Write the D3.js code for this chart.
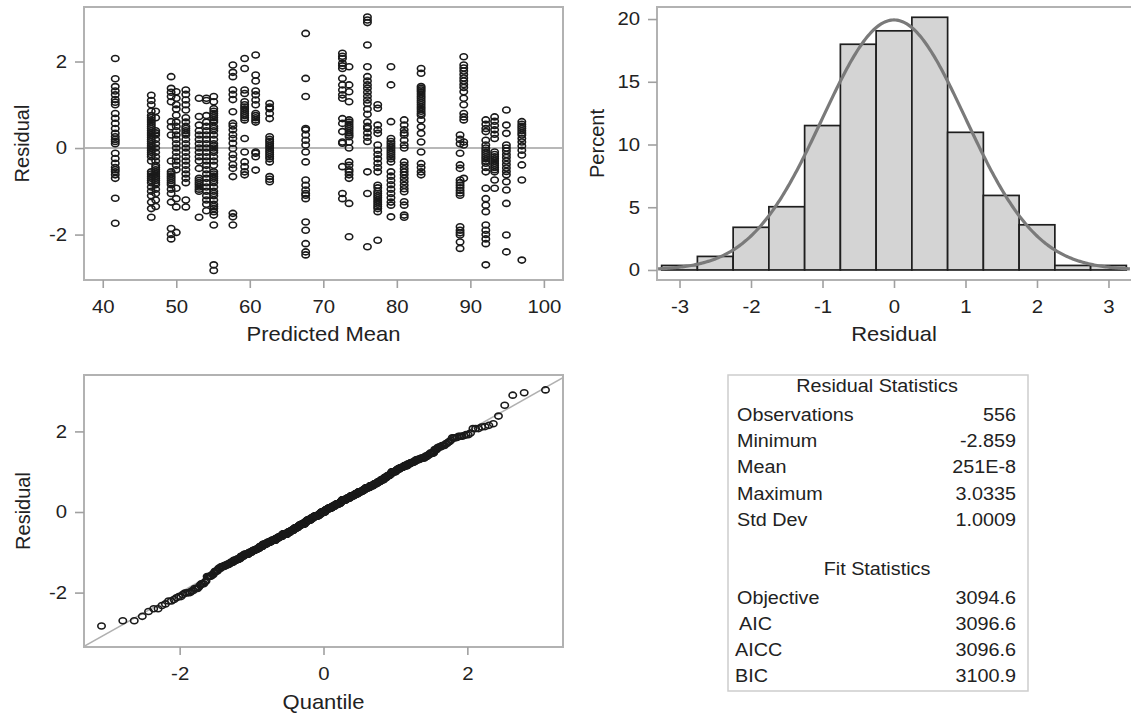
<!DOCTYPE html>
<html><head><meta charset="utf-8">
<script src="https://cdn.jsdelivr.net/npm/d3@7"></script>
<style>
body{margin:0;background:#fff;}
svg{display:block;font-family:"Liberation Sans",Arial,sans-serif;}
</style></head><body>
<svg id="c" width="1131" height="713"></svg>
<script>
// ---------- DATA ----------
const predictedMeans = [41.7,46.6,47.2,49.3,50.0,51.3,53.1,54.1,55.1,57.7,59.3,60.8,62.7,67.6,72.6,73.5,76.0,77.4,79.2,81.0,83.3,88.6,89.1,92.1,93.3,94.9,97.0];
const residualsByGroup = [
 [2.07,1.6,1.42,1.32,1.23,1.12,1.06,1.0,0.8,0.69,0.57,0.45,0.34,0.26,0.2,0.15,0.1,-0.12,-0.24,-0.35,-0.45,-0.5,-0.55,-0.62,-0.7,-1.16,-1.74],
 [1.22,1.1,1.0,0.85,0.75,0.7,0.65,0.6,0.55,0.5,0.45,0.4,0.35,0.3,0.25,0.2,0.15,0.1,0.05,0,-0.05,-0.1,-0.15,-0.2,-0.3,-0.55,-0.6,-0.65,-0.7,-0.75,-0.8,-0.9,-1.0,-1.1,-1.25,-1.4,-1.6],
 [0.85,0.7,0.4,0.35,0.3,0.2,0.1,0.0,-0.1,-0.2,-0.3,-0.4,-0.45,-0.5,-0.55,-0.6,-0.65,-0.7,-0.75,-0.8,-0.85,-0.95,-1.05,-1.2,-1.35],
 [1.65,1.38,1.29,1.19,1.07,0.61,0.49,0.3,-0.3,-0.55,-0.6,-0.65,-0.7,-0.75,-0.8,-0.85,-0.95,-1.05,-1.25,-1.86,-2.0,-2.1],
 [1.3,1.15,1.0,0.9,0.76,0.6,0.5,0.4,0.3,0.2,0.1,0.0,-0.1,-0.2,-0.3,-0.4,-0.5,-0.93,-1.17,-1.36,-1.95],
 [1.34,1.24,1.11,1.0,0.88,0.7,0.6,0.5,0.45,0.4,0.35,0.3,0.2,0.1,0.0,-0.1,-0.2,-0.3,-0.4,-0.5,-0.6,-0.7,-0.8,-1.2,-1.36],
 [1.15,0.73,0.53,0.4,0.3,0.2,0.1,0.0,-0.1,-0.2,-0.3,-0.47,-0.7,-0.75,-0.8,-0.85,-0.9,-0.95,-1.0,-1.6],
 [1.15,1.1,0.75,0.6,0.5,0.4,0.3,0.2,0.1,0.0,-0.1,-0.2,-0.3,-0.4,-0.5,-0.6,-0.7,-0.8,-0.9,-1.0,-1.1,-1.2,-1.3,-1.45],
 [1.19,1.07,0.91,0.85,0.8,0.75,0.7,0.65,0.6,0.5,0.45,0.4,0.3,0.2,0.1,0.05,0.0,-0.05,-0.1,-0.2,-0.3,-0.4,-0.55,-0.6,-0.65,-0.7,-0.75,-0.8,-0.9,-1.0,-1.05,-1.1,-1.2,-1.3,-1.35,-1.4,-1.47,-1.55,-1.78,-2.7,-2.83],
 [1.92,1.75,1.65,1.34,1.24,1.12,0.84,0.57,0.51,0.42,0.31,0.22,0.11,-0.01,-0.15,-0.24,-0.38,-0.47,-0.66,-1.51,-1.59,-1.78],
 [2.07,1.84,1.34,1.26,1.07,1.0,0.95,0.9,0.85,0.8,0.75,0.7,0.65,0.22,-0.09,-0.32,-0.43,-0.55,-0.62],
 [2.15,1.69,1.55,1.32,1.23,1.11,1.0,0.8,0.75,0.7,0.65,0.6,-0.09,-0.12,-0.2,-0.51],
 [1.03,0.95,0.91,0.8,0.68,0.26,0.2,0.15,0.1,0.05,0.0,-0.05,-0.1,-0.15,-0.2,-0.25,-0.32,-0.66,-0.72,-0.78],
 [2.65,1.61,1.19,0.45,0.42,0.3,0.18,0.07,-0.09,-0.32,-0.74,-0.86,-0.97,-1.05,-1.09,-1.17,-1.71,-1.9,-2.21,-2.4,-2.47],
 [2.19,2.12,2.07,1.96,1.9,1.84,1.61,1.46,1.34,1.23,1.15,0.68,0.57,0.38,0.14,0.11,-0.43,-1.05,-1.17],
 [1.88,1.46,1.3,1.07,0.65,0.6,0.55,0.5,0.45,0.4,0.35,0.3,0.26,0.14,0.0,-0.32,-0.4,-0.5,-0.55,-0.62,-0.7,-1.28,-2.05],
 [3.03,2.96,2.9,2.38,1.88,1.65,1.55,1.46,1.38,1.29,1.2,1.11,1.03,0.9,0.78,0.6,0.5,0.45,0.35,0.25,0.15,-0.55,-1.05,-2.28],
 [1.0,0.92,0.53,0.42,0.34,0.07,-0.05,-0.15,-0.25,-0.35,-0.45,-0.55,-0.86,-0.92,-1.0,-1.05,-1.1,-1.15,-1.2,-1.25,-1.3,-1.35,-1.4,-1.47,-2.13],
 [1.88,1.46,0.61,0.22,0.15,0.1,0.05,0.0,-0.05,-0.1,-0.15,-0.2,-0.25,-0.32,-0.55,-0.65,-0.75,-0.85,-0.95,-1.05,-1.15,-1.25,-1.32,-1.59],
 [0.65,0.53,0.42,0.35,0.3,0.18,0.07,0.0,-0.32,-0.4,-0.48,-0.55,-0.62,-0.7,-0.78,-0.86,-0.94,-1.01,-1.24,-1.32,-1.55,-1.6],
 [1.84,1.73,1.42,1.38,1.34,1.3,1.25,1.2,1.15,1.1,1.05,1.0,0.95,0.9,0.85,0.8,0.76,0.65,0.49,0.34,0.14,-0.09,-0.36,-0.45,-0.55,-0.62],
 [0.3,0.2,0.1,-0.12,-0.39,-0.47,-0.74,-0.8,-0.86,-0.92,-0.98,-1.04,-1.09,-1.82,-1.9,-1.96,-2.01,-2.17,-2.32],
 [2.11,1.92,1.85,1.78,1.7,1.62,1.55,1.47,1.4,1.3,1.15,1.0,0.8,0.72,0.65,0.14,0.07,-0.7],
 [0.65,0.55,0.45,0.38,0.18,0.07,0.0,-0.05,-0.1,-0.15,-0.2,-0.25,-0.3,-0.35,-0.45,-0.55,-0.93,-1.17,-1.32,-1.47,-1.78,-1.9,-2.0,-2.1,-2.21,-2.7],
 [0.72,0.62,0.52,0.42,0.32,0.22,-0.09,-0.15,-0.2,-0.25,-0.3,-0.35,-0.4,-0.45,-0.5,-0.55,-0.74,-0.93],
 [0.88,0.53,0.34,0.07,0.0,-0.07,-0.15,-0.22,-0.3,-0.38,-0.46,-0.54,-0.62,-0.78,-0.97,-1.28,-2.01,-2.4],
 [0.61,0.55,0.5,0.45,0.4,0.35,0.3,0.22,0.14,0.05,-0.05,-0.16,-0.39,-0.74,-2.59]
];
const histMidpoints = [-3,-2.5,-2,-1.5,-1,-0.5,0,0.5,1,1.5,2,2.5,3];
const histPercents  = [0.36,1.08,3.4,5.04,11.51,17.99,19.06,20.14,10.97,5.94,3.6,0.36,0.36];
const histBinWidth = 0.5;
const residualStatLabels = ["Observations","Minimum","Mean","Maximum","Std Dev"];
const residualStatValues = ["556","-2.859","251E-8","3.0335","1.0009"];
const fitStatLabels = ["Objective","AIC","AICC","BIC"];
const fitStatValues = ["3094.6","3096.6","3096.6","3100.9"];
const residualMean = 251e-8, residualStd = 1.0009;
const scatterXTicks = [40,50,60,70,80,90,100];
const residualTicks = [-2,0,2];
const percentTicks = [0,5,10,15,20];
const histXTicks = [-3,-2,-1,0,1,2,3];
const quantileTicks = [-2,0,2];

// ---------- STYLE ----------
const TXT = "#222", FRAME = "#b2b2b2", TICKC = "#a0a0a0";
const FS_TICK = 18.5, FS_TITLE = 20, SX = 1.1;
const svg = d3.select("#c");

function frame(x0,x1,y0,y1){
  svg.append("rect").attr("x",x0).attr("y",y0).attr("width",x1-x0).attr("height",y1-y0)
    .attr("fill","none").attr("stroke",FRAME).attr("stroke-width",2);
}
function styleAxis(g,left){
  g.select(".domain").remove();
  g.selectAll(".tick line").attr("stroke",TICKC).attr("stroke-width",1.6);
  g.selectAll(".tick text").attr("fill",TXT).style("font-size",FS_TICK+"px")
    .attr("transform",`scale(${SX},1)`);
  if(left) g.selectAll(".tick text").attr("x",-17/SX);
}
function xAxis(scale,ticks,y,fmt){
  const g = svg.append("g").attr("transform",`translate(0,${y})`)
    .call(d3.axisBottom(scale).tickValues(ticks).tickSize(8).tickPadding(12).tickFormat(fmt||(d=>d)));
  styleAxis(g,false);
}
function yAxis(scale,ticks,x,fmt){
  const g = svg.append("g").attr("transform",`translate(${x},0)`)
    .call(d3.axisLeft(scale).tickValues(ticks).tickSize(9).tickPadding(8).tickFormat(fmt||(d=>d)));
  styleAxis(g,true);
}
function title(text,x,y,rot){
  svg.append("text").attr("transform",`translate(${x},${y})${rot?" rotate(-90)":` scale(${SX},1)`}`)
    .attr("text-anchor","middle").attr("dominant-baseline","central")
    .attr("fill",TXT).style("font-size",FS_TITLE+"px").text(text);
}
const fmtNeg = d => (d<0?"-"+Math.abs(d):String(d));
function markers(data,xf,yf){
  svg.append("g").selectAll("ellipse").data(data).join("ellipse")
    .attr("cx",xf).attr("cy",yf).attr("rx",3.7).attr("ry",3.0)
    .attr("fill","none").attr("stroke","#1a1a1a").attr("stroke-width",1.6);
}

// ---------- PANEL 1: residual vs predicted ----------
const p1 = {x0:84,x1:563,y0:7,y1:280};
const x1s = d3.scaleLinear().domain([37.45,102.6]).range([p1.x0,p1.x1]);
const y1s = d3.scaleLinear().domain([-3.05,3.26]).range([p1.y1,p1.y0]);
const scatterPts = [];
predictedMeans.forEach((m,i)=>residualsByGroup[i].forEach(r=>scatterPts.push({m,r})));
svg.append("line").attr("x1",p1.x0).attr("x2",p1.x1).attr("y1",y1s(0)).attr("y2",y1s(0))
  .attr("stroke","#a0a0a0").attr("stroke-width",1.6);
markers(scatterPts,d=>x1s(d.m),d=>y1s(d.r));
frame(p1.x0,p1.x1,p1.y0,p1.y1);
xAxis(x1s,scatterXTicks,p1.y1);
yAxis(y1s,residualTicks,p1.x0,fmtNeg);
title("Predicted Mean",(p1.x0+p1.x1)/2,334);
title("Residual",22,(p1.y0+p1.y1)/2,true);

// ---------- PANEL 2: histogram ----------
const p2 = {x0:657,x1:1131,y0:7,y1:280};
const x2s = d3.scaleLinear().domain([-3.315,3.315]).range([p2.x0,p2.x1]);
const y2s = d3.scaleLinear().domain([-0.8,20.96]).range([p2.y1,p2.y0]);
svg.append("g").selectAll("rect").data(histMidpoints.map((m,i)=>({m,p:histPercents[i]}))).join("rect")
  .attr("x",d=>x2s(d.m-histBinWidth/2)).attr("width",d=>x2s(d.m+histBinWidth/2)-x2s(d.m-histBinWidth/2))
  .attr("y",d=>y2s(d.p)).attr("height",d=>y2s(0)-y2s(d.p))
  .attr("fill","#d4d4d4").attr("stroke","#1e1e1e").attr("stroke-width",1.7);
const curveX = d3.range(-3.3,3.3001,0.02);
const normPct = x => 100*histBinWidth*Math.exp(-0.5*((x-residualMean)/residualStd)**2)/(residualStd*Math.sqrt(2*Math.PI));
svg.append("path").datum(curveX).attr("fill","none").attr("stroke","#7a7a7a").attr("stroke-width",3.2)
  .attr("d",d3.line().x(d=>x2s(d)).y(d=>y2s(normPct(d))));
frame(p2.x0,p2.x1+2,p2.y0,p2.y1);
xAxis(x2s,histXTicks,p2.y1,fmtNeg);
yAxis(y2s,percentTicks,p2.x0);
title("Residual",(p2.x0+p2.x1)/2,334);
title("Percent",597,(p2.y0+p2.y1)/2,true);

// ---------- PANEL 3: Q-Q plot ----------
function invNorm(p){
  const a=[-3.969683028665376e+01,2.209460984245205e+02,-2.759285104469687e+02,1.383577518672690e+02,-3.066479806614716e+01,2.506628277459239e+00];
  const b=[-5.447609879822406e+01,1.615858368580409e+02,-1.556989798598866e+02,6.680131188771972e+01,-1.328068155288572e+01];
  const c=[-7.784894002430293e-03,-3.223964580411365e-01,-2.400758277161838e+00,-2.549732539343734e+00,4.374664141464968e+00,2.938163982698783e+00];
  const d=[7.784695709041462e-03,3.224671290700398e-01,2.445134137142996e+00,3.754408661907416e+00];
  const pl=0.02425;
  if(p<pl){const q=Math.sqrt(-2*Math.log(p));return (((((c[0]*q+c[1])*q+c[2])*q+c[3])*q+c[4])*q+c[5])/((((d[0]*q+d[1])*q+d[2])*q+d[3])*q+1);}
  if(p>1-pl){const q=Math.sqrt(-2*Math.log(1-p));return -(((((c[0]*q+c[1])*q+c[2])*q+c[3])*q+c[4])*q+c[5])/((((d[0]*q+d[1])*q+d[2])*q+d[3])*q+1);}
  const q=p-0.5,r=q*q;
  return (((((a[0]*r+a[1])*r+a[2])*r+a[3])*r+a[4])*r+a[5])*q/(((((b[0]*r+b[1])*r+b[2])*r+b[3])*r+b[4])*r+1);
}
const sortedRes = scatterPts.map(d=>d.r).sort((a,b)=>a-b);
const nRes = sortedRes.length;
const qqPts = sortedRes.map((r,i)=>({q:invNorm((i+1-0.375)/(nRes+0.25)),r}));
const p3 = {x0:84,x1:563,y0:375,y1:647};
const x3s = d3.scaleLinear().domain([-3.33,3.33]).range([p3.x0,p3.x1]);
const y3s = d3.scaleLinear().domain([-3.35,3.40]).range([p3.y1,p3.y0]);
svg.append("defs").append("clipPath").attr("id","qqclip").append("rect")
  .attr("x",p3.x0).attr("y",p3.y0).attr("width",p3.x1-p3.x0).attr("height",p3.y1-p3.y0);
svg.append("line").attr("clip-path","url(#qqclip)")
  .attr("x1",x3s(-3.4)).attr("y1",y3s(residualMean-3.4*residualStd))
  .attr("x2",x3s(3.4)).attr("y2",y3s(residualMean+3.4*residualStd))
  .attr("stroke","#b0b0b0").attr("stroke-width",1.6);
markers(qqPts,d=>x3s(d.q),d=>y3s(d.r));
frame(p3.x0,p3.x1,p3.y0,p3.y1);
xAxis(x3s,quantileTicks,p3.y1,fmtNeg);
yAxis(y3s,residualTicks,p3.x0,fmtNeg);
title("Quantile",(p3.x0+p3.x1)/2,702);
title("Residual",23,(p3.y0+p3.y1)/2,true);

// ---------- PANEL 4: statistics table ----------
const tb = {x0:728,x1:1028,y0:375,y1:691};
svg.append("rect").attr("x",tb.x0).attr("y",tb.y0).attr("width",tb.x1-tb.x0).attr("height",tb.y1-tb.y0)
  .attr("fill","none").attr("stroke","#cdcdcd").attr("stroke-width",1.5);
function ttext(t,x,y,anchor){
  svg.append("text").attr("transform",`translate(${x},${y}) scale(1.07,1)`)
    .attr("text-anchor",anchor).attr("dominant-baseline","central")
    .attr("fill","#222").style("font-size","18.5px").text(t);
}
const tcx = 877;
ttext("Residual Statistics",tcx,386,"middle");
const rsRows = [415,441,467,494,520];
residualStatLabels.forEach((l,i)=>{ttext(l,737,rsRows[i],"start");ttext(residualStatValues[i],1016,rsRows[i],"end");});
ttext("Fit Statistics",tcx,569,"middle");
const fsRows = [598,624,650,676];
const fsLeft = [737,739,735,735];
fitStatLabels.forEach((l,i)=>{ttext(l,fsLeft[i],fsRows[i],"start");ttext(fitStatValues[i],1016,fsRows[i],"end");});
</script>
</body></html>
